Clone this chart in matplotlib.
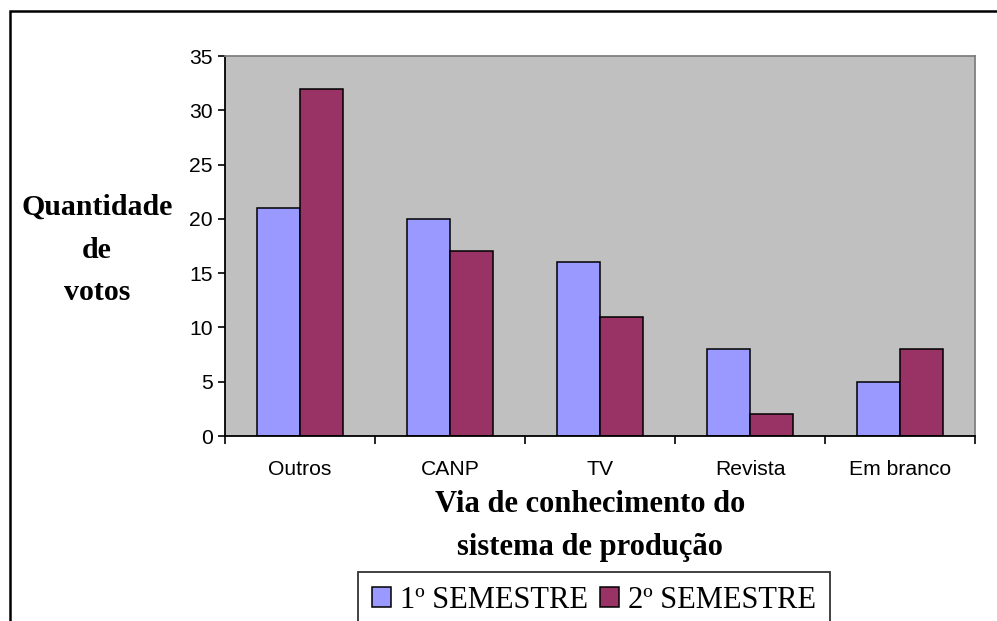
import numpy as np
import matplotlib.pyplot as plt
from matplotlib.patches import Rectangle

# votos por via de conhecimento
categorias = ['Outros', 'CANP', 'TV', 'Revista', 'Em branco']
sem1 = [21, 20, 16, 8, 5]
sem2 = [32, 17, 11, 2, 8]
series = ['1º SEMESTRE', '2º SEMESTRE']

cor1 = '#9999FF'
cor2 = '#993366'

fig = plt.figure(figsize=(9.97, 6.21), dpi=100)
fig.patch.set_facecolor('white')

ax = fig.add_axes([225/997, 1-436/621, 750/997, 380/621])
ax.set_facecolor('#C0C0C0')

x = np.arange(len(categorias))
w = 1/3.5
b1 = ax.bar(x - w/2, sem1, w, color=cor1, edgecolor='black', linewidth=1.1, label=series[0])
b2 = ax.bar(x + w/2, sem2, w, color=cor2, edgecolor='black', linewidth=1.1, label=series[1])

ax.set_xlim(-0.5, len(categorias) - 0.5)
ax.set_ylim(0, 35)
ax.set_yticks(np.arange(0, 36, 5))

# marcas nas divisas das categorias, rotulos no centro
ax.set_xticks(np.arange(-0.5, len(categorias), 1))
ax.set_xticklabels([])
ax.set_xticks(x, minor=True)
ax.set_xticklabels(categorias, minor=True)
ax.tick_params(axis='x', which='major', length=6, width=1.2, direction='out', color='black')
ax.tick_params(axis='x', which='minor', length=0, pad=17.5)
ax.tick_params(axis='y', length=5, width=1.2, direction='out', pad=4)
for lab in ax.get_xticklabels(minor=True) + ax.get_yticklabels():
    lab.set_fontfamily('Liberation Sans')
    lab.set_fontsize(15.2)

for s in ['left', 'bottom']:
    ax.spines[s].set_color('black')
    ax.spines[s].set_linewidth(1.3)
for s in ['top', 'right']:
    ax.spines[s].set_color('#808080')
    ax.spines[s].set_linewidth(1.3)

fig.text(97/997, 1-250/621, 'Quantidade\nde\nvotos', ha='center', va='center',
         family='Liberation Serif', weight='bold', fontsize=21.5, linespacing=1.75)
fig.text(590/997, 1-526/621, 'Via de conhecimento do\nsistema de produção', ha='center', va='center',
         family='Liberation Serif', weight='bold', fontsize=22, linespacing=1.65)

leg = fig.legend(handles=[b1, b2], labels=series, ncol=2, loc='upper left',
                 bbox_to_anchor=(358/997, 1-572/621), frameon=True, fancybox=False,
                 prop={'family': 'Liberation Serif', 'size': 22},
                 handlelength=0.62, handleheight=0.62, handletextpad=0.3,
                 columnspacing=0.4, borderpad=0.45, borderaxespad=0)
leg.get_frame().set_edgecolor('black')
leg.get_frame().set_linewidth(1.3)

# moldura externa
fig.patches.append(Rectangle((10/997, -0.1), 1.2, 1.1 - 11/621, transform=fig.transFigure,
                             fill=False, edgecolor='black', linewidth=1.8))

fig.savefig('out.png', dpi=100)
